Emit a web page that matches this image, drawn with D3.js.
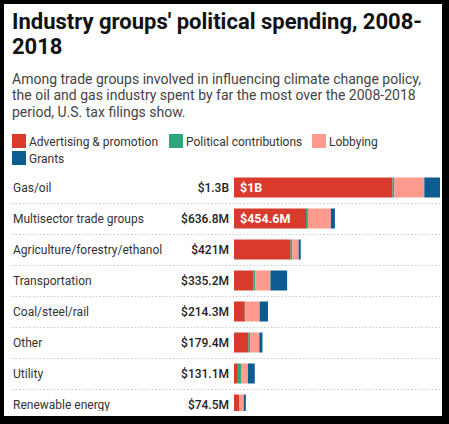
<!DOCTYPE html>
<html>
<head>
<meta charset="utf-8">
<script src="https://cdn.jsdelivr.net/npm/d3@7"></script>
<style>
  html, body { margin: 0; padding: 0; background: #000; }
  svg { display: block; font-family: Roboto, "Noto Sans", sans-serif; }
</style>
</head>
<body>
<svg id="chart" width="449" height="424"></svg>
<script>
// ---- data ----
const categories = ["Gas/oil", "Multisector trade groups", "Agriculture/forestry/ethanol", "Transportation", "Coal/steel/rail", "Other", "Utility", "Renewable energy"];
const totalLabels = ["$1.3B", "$636.8M", "$421M", "$335.2M", "$214.3M", "$179.4M", "$131.1M", "$74.5M"];
const advertising = [1000, 454.6, 357, 122, 68, 90, 19, 32];
const contributions = [11, 12, 11, 12, 4, 12, 25, 3];
const lobbying = [190, 145, 40, 96, 90, 58, 44, 27];
const grants = [99, 25.2, 13, 105.2, 52.3, 19.4, 43.1, 12.5];
const barLabels = ["$1B", "$454.6M", "", "", "", "", "", ""];
const seriesNames = ["Advertising & promotion", "Political contributions", "Lobbying", "Grants"];
const seriesColors = ["#d83a2c", "#2ea57b", "#fd9b8f", "#0c5c92"];
const title = ["Industry groups' political spending, 2008-", "2018"];
const subtitle = ["Among trade groups involved in influencing climate change policy,", "the oil and gas industry spent by far the most over the 2008-2018", "period, U.S. tax filings show."];

const svg = d3.select("#chart");
const W = 449, H = 424;

// frame
svg.append("rect").attr("width", W).attr("height", H).attr("fill", "#000");
svg.append("rect").attr("x", 4).attr("y", 4).attr("width", 438).attr("height", 412).attr("fill", "#fff");

// title
svg.append("g").selectAll("text").data(title).join("text")
  .attr("x", 12).attr("y", (d, i) => 29 + i * 25)
  .attr("font-size", 22).attr("font-weight", 700).attr("fill", "#111")
  .text(d => d);

svg.append("g").selectAll("text").data(subtitle).join("text")
  .attr("x", 12).attr("y", (d, i) => 84 + i * 16.3)
  .attr("font-size", 14).attr("fill", "#444")
  .text(d => d);

// legend
const legendPos = [[12, 134], [169, 134], [312, 134], [12, 151]];
const lg = svg.append("g").selectAll("g").data(seriesNames).join("g")
  .attr("transform", (d, i) => `translate(${legendPos[i][0]},${legendPos[i][1]})`);
lg.append("rect").attr("width", 14).attr("height", 14).attr("fill", (d, i) => seriesColors[i]);
lg.append("text").attr("x", 17).attr("y", 11.5).attr("font-size", 12).attr("fill", "#333").text(d => d);

// chart
svg.append("defs").append("clipPath").attr("id", "clip")
  .append("rect").attr("x", 4).attr("y", 165).attr("width", 438).attr("height", 246);

const g = svg.append("g").attr("clip-path", "url(#clip)");

const y = d3.scaleBand().domain(categories).range([172, 172 + categories.length * 31])
  .paddingInner(11 / 31).paddingOuter(11 / 62);
const x = d3.scaleLinear().domain([0, 1300]).range([234, 440]);

const rows = categories.map((c, i) => {
  const vals = [advertising[i], contributions[i], lobbying[i], grants[i]];
  let acc = 0;
  const segs = vals.map((v, k) => { const s = { x0: acc, x1: acc + v, k }; acc += v; return s; });
  return { c, i, segs };
});

// separators
g.append("g").selectAll("line").data(categories).join("line")
  .attr("x1", 12).attr("x2", 440)
  .attr("y1", d => y(d) - y.step() * y.paddingInner() / 2 + y.step() + 0.5)
  .attr("y2", d => y(d) - y.step() * y.paddingInner() / 2 + y.step() + 0.5)
  .attr("stroke", "#c8c8c8").attr("stroke-width", 1).attr("stroke-dasharray", "1.5,2");

const rg = g.append("g").selectAll("g").data(rows).join("g");

rg.selectAll("rect").data(d => d.segs.map(s => ({ ...s, c: d.c }))).join("rect")
  .attr("x", s => x(s.x0)).attr("width", s => x(s.x1) - x(s.x0))
  .attr("y", s => y(s.c)).attr("height", y.bandwidth())
  .attr("fill", s => seriesColors[s.k]);

rg.append("text").attr("x", 13).attr("y", d => y(d.c) + y.bandwidth() / 2 + 4.5)
  .attr("font-size", 12).attr("fill", "#333").text(d => d.c);

rg.append("text").attr("x", 229).attr("y", d => y(d.c) + y.bandwidth() / 2 + 4.5)
  .attr("text-anchor", "end").attr("font-size", 12).attr("font-weight", 500).attr("fill", "#222")
  .text(d => totalLabels[d.i]);

rg.append("text").attr("x", d => x(0) + 6).attr("y", d => y(d.c) + y.bandwidth() / 2 + 4.5)
  .attr("font-size", 12.5).attr("font-weight", 700).attr("fill", "#fff")
  .text(d => barLabels[d.i]);
</script>
</body>
</html>
